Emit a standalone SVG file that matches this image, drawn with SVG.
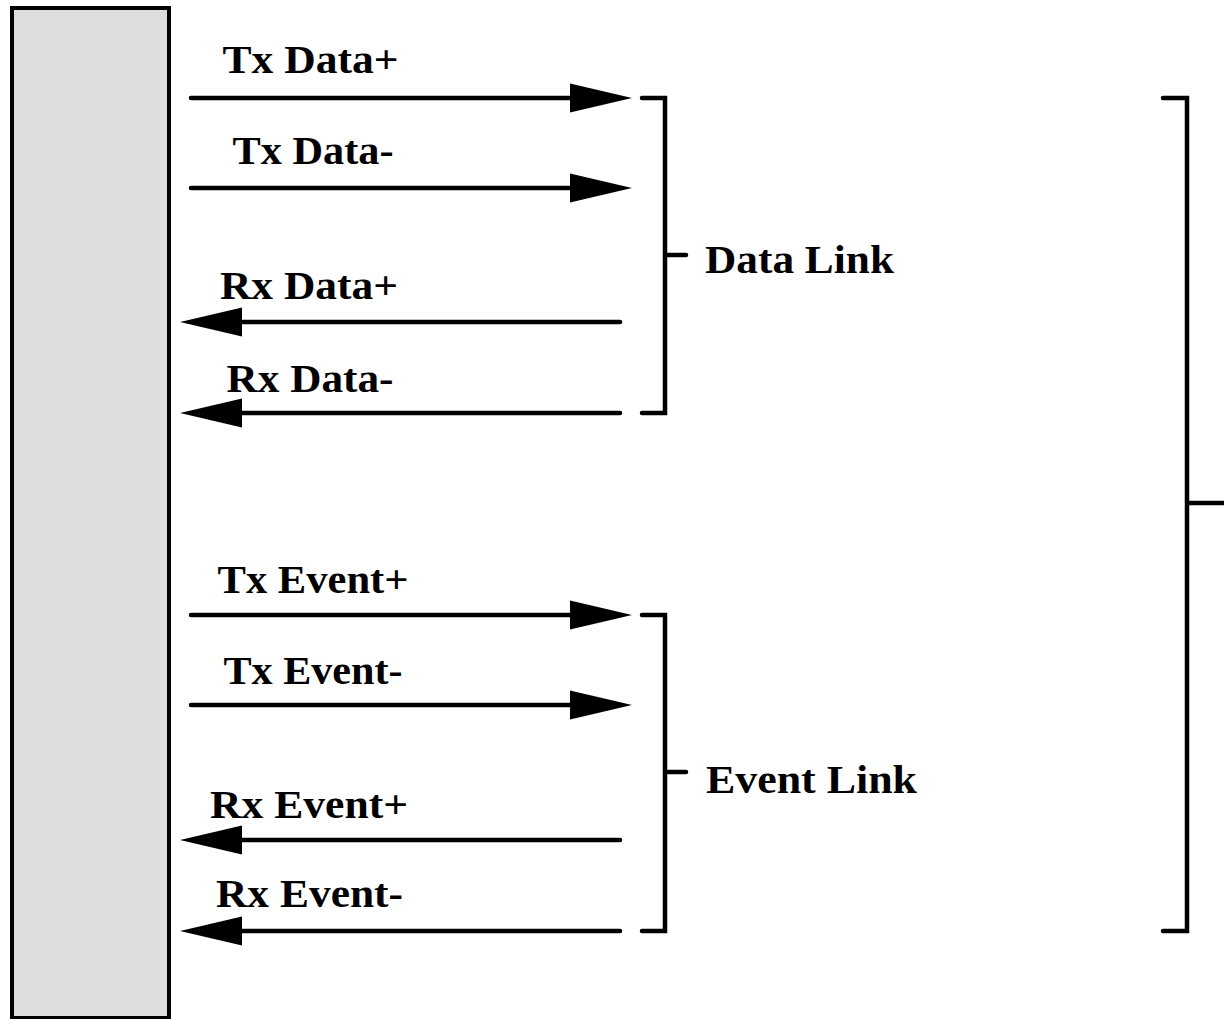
<svg xmlns="http://www.w3.org/2000/svg" width="1224" height="1019" viewBox="0 0 1224 1019">
  <style>
    .wire { stroke: #000; stroke-width: 4.5; stroke-linecap: round; fill: none; marker-end: url(#head); }
    .brace { stroke: #000; stroke-width: 4.5; stroke-linecap: round; stroke-linejoin: miter; fill: none; }
    .lbl { font-family: "Liberation Serif", "Times New Roman", serif; font-weight: bold; font-size: 40px; fill: #000; }
  </style>
  <defs>
    <marker id="head" markerUnits="userSpaceOnUse" markerWidth="64" markerHeight="30" refX="0" refY="14.5" orient="auto" overflow="visible">
      <path d="M0,0 L62,14.5 L0,29 Z" fill="#000"/>
    </marker>
  </defs>
  <rect width="1224" height="1019" fill="#fff"/>

  <!-- device block -->
  <g id="device">
    <rect x="12" y="8" width="157" height="1010" fill="#dddddd" stroke="#000" stroke-width="4"/>
  </g>

  <!-- signal wires -->
  <g id="connectors">
    <line class="wire" x1="191" y1="98" x2="570" y2="98"/>
    <line class="wire" x1="191" y1="188" x2="570" y2="188"/>
    <line class="wire" x1="620" y1="322" x2="242" y2="322"/>
    <line class="wire" x1="620" y1="413" x2="242" y2="413"/>
    <line class="wire" x1="191" y1="615" x2="570" y2="615"/>
    <line class="wire" x1="191" y1="705" x2="570" y2="705"/>
    <line class="wire" x1="620" y1="840" x2="242" y2="840"/>
    <line class="wire" x1="620" y1="931" x2="242" y2="931"/>
  </g>

  <!-- signal labels -->
  <g id="signal-labels">
    <text class="lbl" x="222.5" y="73" textLength="176" lengthAdjust="spacingAndGlyphs">Tx Data+</text>
    <text class="lbl" x="232.5" y="164" textLength="161" lengthAdjust="spacingAndGlyphs">Tx Data-</text>
    <text class="lbl" x="220" y="299" textLength="178" lengthAdjust="spacingAndGlyphs">Rx Data+</text>
    <text class="lbl" x="226.5" y="391.5" textLength="167" lengthAdjust="spacingAndGlyphs">Rx Data-</text>
    <text class="lbl" x="217.5" y="593" textLength="191" lengthAdjust="spacingAndGlyphs">Tx Event+</text>
    <text class="lbl" x="223.5" y="684" textLength="179" lengthAdjust="spacingAndGlyphs">Tx Event-</text>
    <text class="lbl" x="210" y="818" textLength="198" lengthAdjust="spacingAndGlyphs">Rx Event+</text>
    <text class="lbl" x="216" y="907" textLength="187" lengthAdjust="spacingAndGlyphs">Rx Event-</text>
  </g>

  <!-- data link bracket -->
  <g id="data-link">
    <path class="brace" d="M642,98 H665 V413 H642 M665,255 H686"/>
    <text class="lbl" x="705" y="273" textLength="189" lengthAdjust="spacingAndGlyphs">Data Link</text>
  </g>

  <!-- event link bracket -->
  <g id="event-link">
    <path class="brace" d="M642,615 H665 V931 H642 M665,772 H686"/>
    <text class="lbl" x="706" y="793" textLength="211" lengthAdjust="spacingAndGlyphs">Event Link</text>
  </g>

  <!-- overall link bracket -->
  <g id="link">
    <path class="brace" d="M1163,98 H1187 V931 H1163 M1187,503 H1226"/>
  </g>
</svg>
